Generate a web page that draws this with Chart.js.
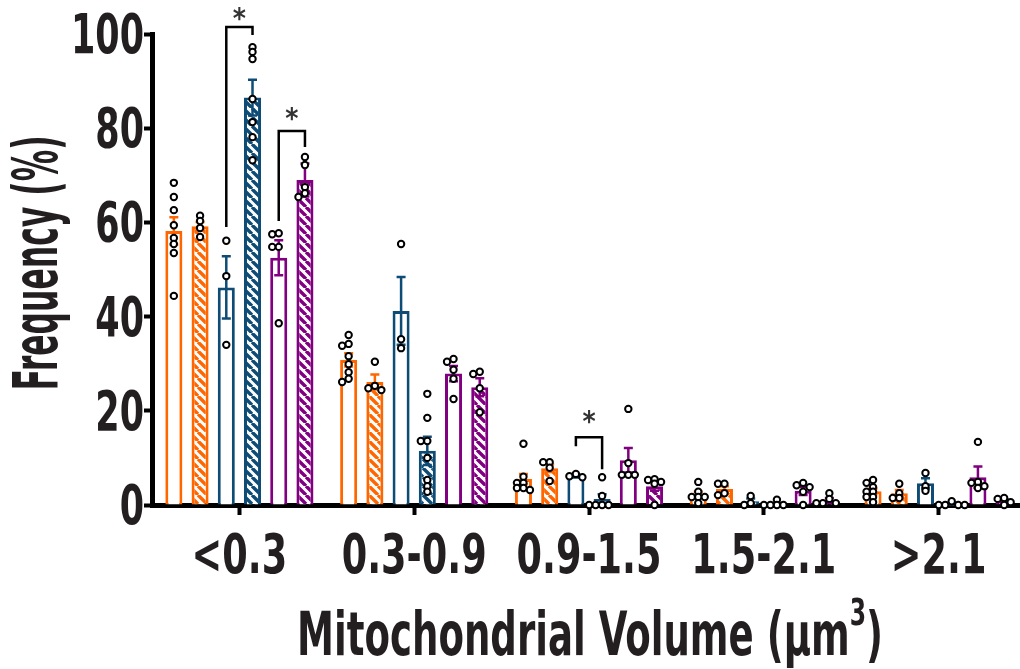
<!DOCTYPE html>
<html>
<head>
<meta charset="utf-8">
<script src="https://cdn.jsdelivr.net/npm/chart.js@4.4.1/dist/chart.umd.min.js"></script>
<style>
  html, body { margin: 0; padding: 0; background: #fff; overflow: hidden; }
</style>
</head>
<body>
<canvas id="grafico" width="1026" height="669"></canvas>
<script>
const categorias = ['<0.3', '0.3-0.9', '0.9-1.5', '1.5-2.1', '>2.1'];
const ticksY = [0, 20, 40, 60, 80, 100];

// medias (%) por grupo
const laranjaAbertoMedia = [58.2, 30.8, 5.5, 2.2, 2.9];
const laranjaHachMedia   = [59.2, 26.1, 7.8, 3.4, 2.5];
const azulAbertoMedia    = [46.2, 41.2, 6.2, 0.8, 4.6];
const azulHachMedia      = [86.5, 11.5, 1.3, 0.2, 0.3];
const roxoAbertoMedia    = [52.5, 27.9, 9.5, 3.0, 5.9];
const roxoHachMedia      = [69.0, 25.0, 4.0, 1.0, 0.9];

// erro padrao
const laranjaAbertoSem = [2.9, 1.4, 1.1, 0.6, 0.6];
const laranjaHachSem   = [0.9, 1.6, 0.8, 0.6, 0.7];
const azulAbertoSem    = [6.6, 7.2, 0.3, 0.6, 1.1];
const azulHachSem      = [3.8, 3.0, 1.0, 0.2, 0.2];
const roxoAbertoSem    = [3.7, 1.6, 2.6, 0.9, 2.3];
const roxoHachSem      = [3.5, 1.9, 1.0, 0.5, 0.3];

// pontos individuais
const laranjaAbertoPts = [
  [68.4, 65.4, 62.6, 59.4, 56.7, 55.4, 53.5, 44.4],
  [36.1, 34.2, 33.8, 31.6, 29.9, 28.2, 26.8, 26.1],
  [13.0, 6.0, 4.7, 4.7, 3.6, 3.6, 3.2],
  [4.9, 2.8, 1.7, 1.7, 1.7, 0.4],
  [5.3, 4.7, 3.8, 2.8, 2.8, 1.7, 1.7, 0.6]
];
const laranjaHachPts = [
  [61.4, 60.3, 58.8, 56.9],
  [30.4, 25.3, 24.8, 24.4],
  [9.1, 9.1, 7.9, 5.1],
  [4.5, 4.5, 2.5, 2.1],
  [4.5, 2.5, 1.5, 1.5]
];
const azulAbertoPts = [
  [56.1, 48.6, 34.0],
  [55.4, 35.2, 33.3],
  [6.6, 6.1, 5.9],
  [1.9, 0.4, 0.0],
  [6.8, 4.0, 3.0]
];
const azulHachPts = [
  [97.2, 96.2, 94.7, 86.2, 81.3, 78.1, 73.2],
  [23.6, 18.5, 13.6, 13.6, 10.0, 5.3, 4.0, 2.8],
  [5.9, 1.9, 0, 0, 0, 0],
  [1.1, 0, 0, 0, 0],
  [0.8, 0, 0, 0, 0]
];
const roxoAbertoPts = [
  [57.7, 57.5, 54.8, 54.8, 38.6],
  [31.0, 30.4, 28.7, 26.8, 22.5],
  [20.4, 8.9, 6.4, 6.4, 6.4],
  [4.7, 4.2, 3.8, 2.8, 0],
  [13.4, 4.9, 4.7, 4.0, 3.6]
];
const roxoHachPts = [
  [73.9, 72.2, 67.5, 66.2, 65.4],
  [28.3, 27.8, 24.8, 19.7],
  [5.5, 5.3, 4.9, 4.5, 0],
  [2.5, 1.3, 0.4, 0.4, 0.4],
  [1.5, 1.3, 0.6, 0]
];

// comparacoes significativas: categoria, barras, alturas em %
const colchetes = [
  { cat: 0, de: 2, ate: 3, topo: 101.5, pernaEsq: 59.0, pernaDir: 99.8, estrela: 104.6 },
  { cat: 0, de: 4, ate: 5, topo: 79.4, pernaEsq: 60.3, pernaDir: 76.0, estrela: 83.4 },
  { cat: 2, de: 2, ate: 3, topo: 14.4, pernaEsq: 12.5, pernaDir: 7.6, estrela: 19.1 }
];

const LARANJA = '#ff6600';
const AZUL = '#0f4c75';
const ROXO = '#800080';
const TEXTO = '#231f20';
const FONTE = "'Liberation Sans Narrow', 'Arial Narrow', 'DejaVu Sans Condensed', sans-serif";

const canvas = document.getElementById('grafico');
const ctxPrincipal = canvas.getContext('2d');

function hachura(cor) {
    const s = 9;
    const c = document.createElement('canvas');
    c.width = s; c.height = s;
    const g = c.getContext('2d');
    g.fillStyle = '#fff';
    g.fillRect(0, 0, s, s);
    g.strokeStyle = cor;
    g.lineWidth = 3.4;
    g.beginPath();
    for (let k = -1; k <= 1; k++) { g.moveTo(k * s, 0); g.lineTo(k * s + s, s); }
    g.stroke();
    return ctxPrincipal.createPattern(c, 'repeat');
}

const grupos = [
    { medias: laranjaAbertoMedia, sem: laranjaAbertoSem, pontos: laranjaAbertoPts, cor: LARANJA, hach: false },
    { medias: laranjaHachMedia,   sem: laranjaHachSem,   pontos: laranjaHachPts,   cor: LARANJA, hach: true },
    { medias: azulAbertoMedia,    sem: azulAbertoSem,    pontos: azulAbertoPts,    cor: AZUL,    hach: false },
    { medias: azulHachMedia,      sem: azulHachSem,      pontos: azulHachPts,      cor: AZUL,    hach: true },
    { medias: roxoAbertoMedia,    sem: roxoAbertoSem,    pontos: roxoAbertoPts,    cor: ROXO,    hach: false },
    { medias: roxoHachMedia,      sem: roxoHachSem,      pontos: roxoHachPts,      cor: ROXO,    hach: true }
];

// espalha horizontalmente pontos que se sobrepoem
function espalhar(ys, passo, limite) {
    const colocados = [];
    return ys.map(py => {
        let dx = 0;
        for (let n = 0; n < 20; n++) {
            dx = n === 0 ? 0 : (n % 2 ? -1 : 1) * Math.ceil(n / 2) * passo;
            if (!colocados.some(p => Math.hypot(p.x - dx, p.y - py) < limite)) break;
        }
        colocados.push({ x: dx, y: py });
        return dx;
    });
}

// texto comprimido na horizontal (fonte condensada)
function textoEstreito(ctx, txt, x, y, fator, alinhamento) {
    ctx.save();
    ctx.translate(x, y);
    ctx.scale(fator, 1);
    ctx.textAlign = alinhamento;
    ctx.fillText(txt, 0, 0);
    ctx.restore();
}

const extras = {
    id: 'extras',
    afterDraw(chart) {
        const ctx = chart.ctx;
        const escalaY = chart.scales.y;
        const escalaX = chart.scales.x;
        ctx.save();

        // barras de erro
        grupos.forEach((gr, i) => {
            const meta = chart.getDatasetMeta(i);
            meta.data.forEach((barra, j) => {
                const m = gr.medias[j], e = gr.sem[j];
                const yTopo = escalaY.getPixelForValue(m + e);
                const yBase = escalaY.getPixelForValue(Math.max(0, m - e));
                ctx.strokeStyle = gr.cor;
                ctx.lineWidth = 2.5;
                ctx.beginPath();
                ctx.moveTo(barra.x, yBase); ctx.lineTo(barra.x, yTopo);
                ctx.moveTo(barra.x - 4.5, yTopo); ctx.lineTo(barra.x + 4.5, yTopo);
                if (m - e > 0) { ctx.moveTo(barra.x - 4.5, yBase); ctx.lineTo(barra.x + 4.5, yBase); }
                ctx.stroke();
            });
        });

        // pontos individuais
        grupos.forEach((gr, i) => {
            const meta = chart.getDatasetMeta(i);
            meta.data.forEach((barra, j) => {
                const ys = gr.pontos[j].map(v => escalaY.getPixelForValue(v));
                const dxs = espalhar(ys, 6.5, 4.5);
                ys.forEach((py, k) => {
                    ctx.beginPath();
                    ctx.arc(barra.x + dxs[k], py, 3.2, 0, Math.PI * 2);
                    ctx.fillStyle = '#fff';
                    ctx.fill();
                    ctx.lineWidth = 2;
                    ctx.strokeStyle = '#000';
                    ctx.stroke();
                });
            });
        });

        // colchetes de significancia
        colchetes.forEach(c => {
            const xa = chart.getDatasetMeta(c.de).data[c.cat].x;
            const xb = chart.getDatasetMeta(c.ate).data[c.cat].x;
            const yt = escalaY.getPixelForValue(c.topo);
            ctx.strokeStyle = '#000';
            ctx.lineWidth = 2.5;
            ctx.beginPath();
            ctx.moveTo(xa, escalaY.getPixelForValue(c.pernaEsq));
            ctx.lineTo(xa, yt);
            ctx.lineTo(xb, yt);
            ctx.lineTo(xb, escalaY.getPixelForValue(c.pernaDir));
            ctx.stroke();
            ctx.fillStyle = '#333';
            ctx.font = 'bold 28px ' + FONTE;
            ctx.textAlign = 'center';
            ctx.textBaseline = 'alphabetic';
            ctx.fillText('*', (xa + xb) / 2, escalaY.getPixelForValue(c.estrela) + 16);
        });

        // rotulos dos eixos
        ctx.fillStyle = TEXTO;
        ctx.textBaseline = 'alphabetic';
        ctx.font = 'bold 55px ' + FONTE;
        const fx = 145 / ctx.measureText('0.3-0.9').width;
        categorias.forEach((c, i) => {
            textoEstreito(ctx, c, escalaX.getPixelForTick(i), 573, fx, 'center');
        });
        const fy = 73 / ctx.measureText('100').width;
        ticksY.forEach(v => {
            textoEstreito(ctx, String(v), 144, escalaY.getPixelForValue(v) + 19, fy, 'right');
        });

        // titulo do eixo Y
        ctx.font = 'bold 62px ' + FONTE;
        ctx.textAlign = 'left';
        const tituloY = 'Frequency (%)';
        const wY = ctx.measureText(tituloY).width;
        ctx.save();
        ctx.translate(57, 263);
        ctx.rotate(-Math.PI / 2);
        ctx.scale(255 / wY, 1);
        ctx.fillText(tituloY, -wY / 2, 0);
        ctx.restore();

        // titulo do eixo X com expoente
        const parte1 = 'Mitochondrial Volume (\u03bcm';
        const parte2 = '3';
        const parte3 = ')';
        ctx.font = 'bold 60px ' + FONTE;
        const w1 = ctx.measureText(parte1).width;
        const w3 = ctx.measureText(parte3).width;
        ctx.font = 'bold 38px ' + FONTE;
        const w2 = ctx.measureText(parte2).width;
        const total = w1 + w2 + w3;
        ctx.save();
        ctx.translate(297, 655);
        ctx.scale(586 / total, 1);
        ctx.textAlign = 'left';
        ctx.font = 'bold 60px ' + FONTE;
        ctx.fillText(parte1, 0, 0);
        ctx.font = 'bold 38px ' + FONTE;
        ctx.fillText(parte2, w1, -30);
        ctx.font = 'bold 60px ' + FONTE;
        ctx.fillText(parte3, w1 + w2, 0);
        ctx.restore();

        ctx.restore();
    }
};

new Chart(canvas, {
    type: 'bar',
    data: {
        labels: categorias,
        datasets: grupos.map(gr => ({
            data: gr.medias,
            backgroundColor: gr.hach ? hachura(gr.cor) : '#ffffff',
            borderColor: gr.cor,
            borderWidth: 3,
            categoryPercentage: 0.9,
            barPercentage: 0.65
        }))
    },
    options: {
        responsive: false,
        animation: false,
        layout: { padding: { top: 34, right: 0, bottom: 0, left: 0 } },
        plugins: { legend: { display: false }, tooltip: { enabled: false } },
        scales: {
            x: {
                z: 1,
                afterFit: s => { s.height = 164; },
                border: { color: '#000', width: 5 },
                grid: { drawOnChartArea: false, offset: false, tickLength: 10, tickWidth: 4, tickColor: '#000' },
                ticks: { display: false, autoSkip: false, maxRotation: 0 }
            },
            y: {
                z: 1,
                min: 0,
                max: 100,
                afterFit: s => { s.width = 152; },
                afterBuildTicks: s => { s.ticks = ticksY.map(v => ({ value: v })); },
                border: { color: '#000', width: 5 },
                grid: { drawOnChartArea: false, tickLength: 8, tickWidth: 4, tickColor: '#000' },
                ticks: { display: false }
            }
        }
    },
    plugins: [extras]
});
</script>
</body>
</html>
